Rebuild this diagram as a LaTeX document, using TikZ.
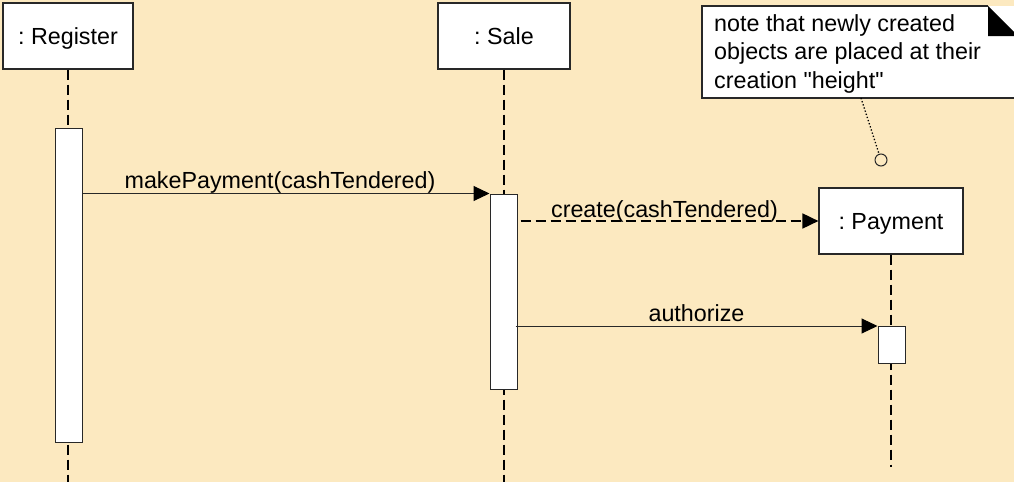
\documentclass[tikz,border=0pt]{standalone}
\usepackage{fontspec}
\newfontfamily\arialf{Liberation Sans}
\usetikzlibrary{arrows.meta,calc}
\definecolor{bg}{RGB}{252,233,192}
\definecolor{ink}{RGB}{40,40,40}
\frenchspacing
\begin{document}
\begin{tikzpicture}[x=1pt,y=-1pt,
  txt/.style={font=\arialf\fontsize{23.3}{28.5}\selectfont},
  obj/.style={txt, draw=ink, fill=white, line width=1.2pt, minimum height=66pt, inner sep=0pt, text height=20pt, text depth=4pt},
  act/.style={draw=ink, fill=white, line width=1pt, minimum width=27pt, inner sep=0pt},
  life/.style={draw=black, line width=1.6pt, dash pattern=on 10pt off 5pt},
  msg/.style={draw=ink, line width=1pt, -{Triangle[length=16pt,width=15pt,color=black]}},
  lbl/.style={txt, inner sep=0pt, anchor=base}]
\fill[bg] (0,0) rectangle (1014,482);
\useasboundingbox (0,0) rectangle (1014,482);

% objects
\node[obj, minimum width=130pt] (reg) at (68,36) {: Register};
\node[obj, minimum width=132pt] (sale) at (504,36) {: Sale};
\node[obj, minimum width=144pt] (pay) at (891,221) {: Payment};

% lifeline ends
\coordinate (regEnd) at (68,482);
\coordinate (saleEnd) at (504,482);
\coordinate (payEnd) at (891,467);
\draw[life] (reg.south) -- (regEnd);
\draw[life] (sale.south) -- (saleEnd);
\draw[life] (pay.south) -- (payEnd);

% activations
\node[act, minimum height=314pt] (ra) at (68.5,285) {};
\node[act, minimum height=195pt] (sa) at (503.5,291.5) {};
\node[act, minimum height=37pt] (pa) at (891.5,345) {};

% messages
\draw[msg] (ra.east |- sa.north) -- (sa.north west)
  node[lbl, midway, xshift=-6pt, yshift=5pt] {makePayment(cashTendered)};
\draw[msg, draw=black, line width=1.8pt, dash pattern=on 10pt off 5pt] ($(sa.east |- pay.west)+(3,0)$) -- (pay.west)
  node[lbl, midway, xshift=-5pt, yshift=4pt] (crl) {create(cashTendered)};
\draw[msg] ($(sa.east |- pa.north)+(-2,0)$) -- (pa.north west)
  node[lbl, midway, xshift=0pt, yshift=5pt] {authorize};

% note
\path[fill=white] (702,6) rectangle (1014,98);
\draw[draw=ink, line width=1.2pt] (988,6) -- (702,6) -- (702,98) -- (1016,98);
\fill[black] (988,6) -- (988,36) -- (1018,36) -- cycle;
\node[txt, anchor=north west, align=left, inner sep=0pt] (note) at (714,14)
  {note that newly created\\objects are placed at their\\creation "height"};
\coordinate (noteTail) at (861,98);
\node[circle, draw=ink, line width=1pt, minimum size=12pt, inner sep=0pt] (anchorC) at (881,160) {};
\draw[draw=black, line width=1.3pt, dotted] (noteTail) -- (anchorC);
\end{tikzpicture}
\end{document}
